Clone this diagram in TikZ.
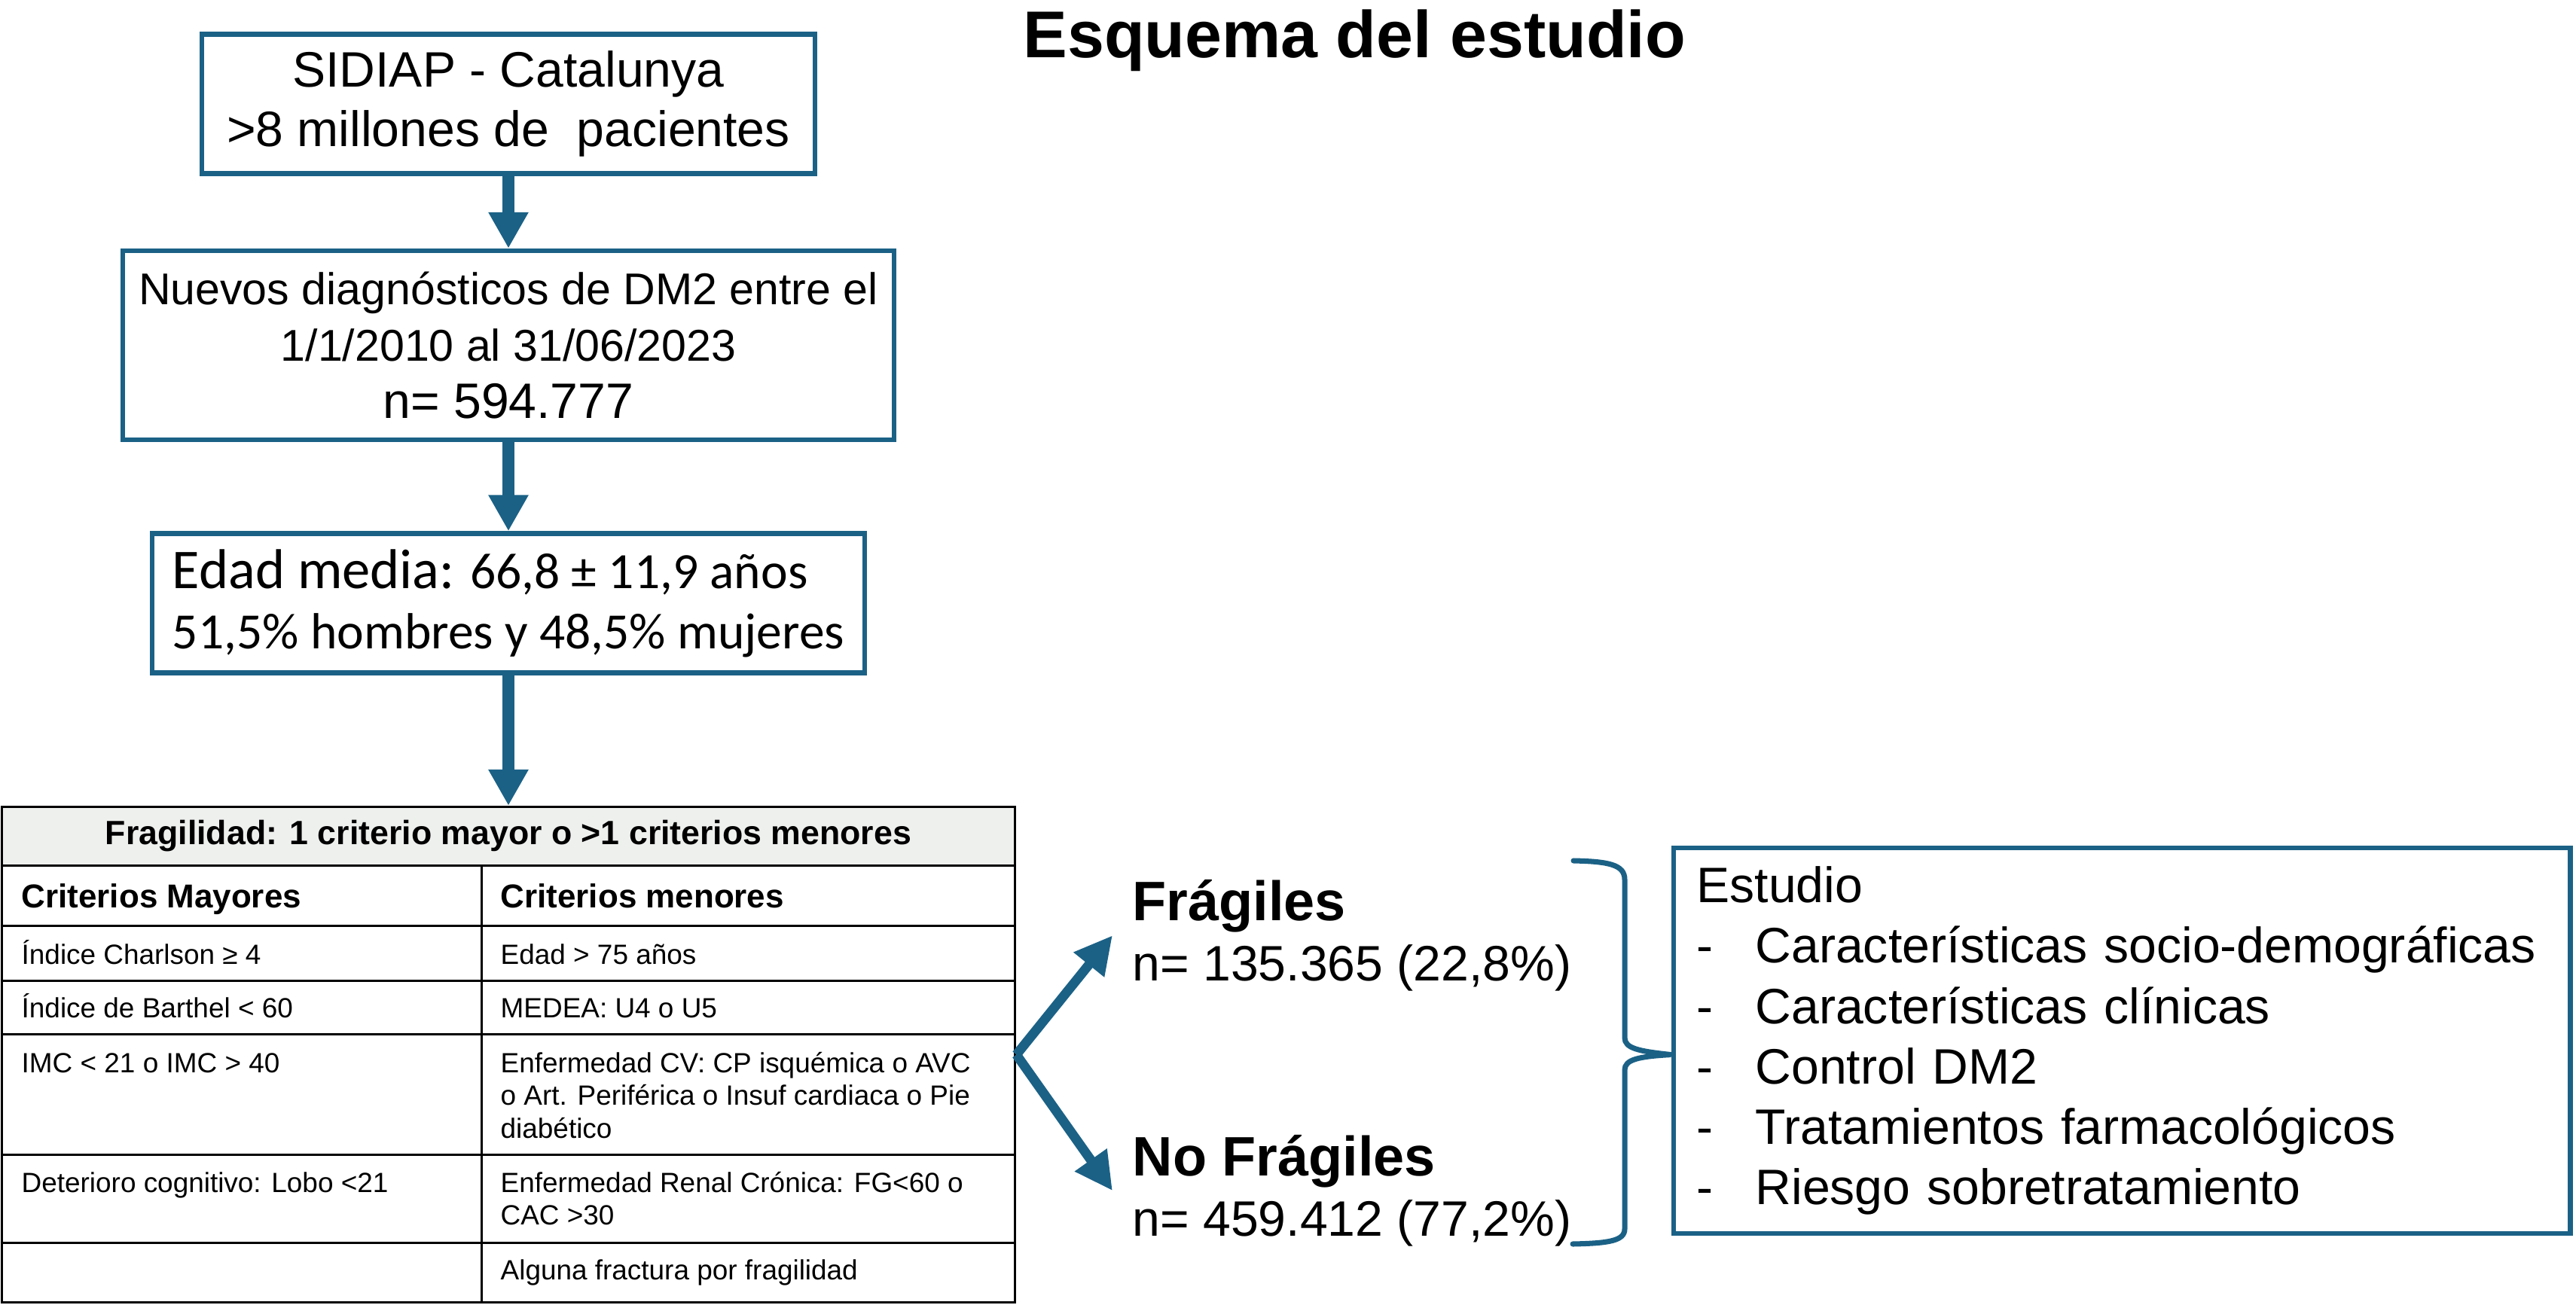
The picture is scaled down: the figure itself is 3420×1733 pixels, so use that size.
\documentclass[tikz,border=0pt]{standalone}
\usepackage{fontspec}
\setmainfont{Liberation Sans}
\newfontfamily\calibri{Carlito}
\usetikzlibrary{positioning,arrows.meta}
\definecolor{azulEsquema}{HTML}{1B6186}
\definecolor{grisCabecera}{HTML}{EEF0EE}
\newcommand{\celda}[1]{\parbox[t]{6.75cm}{\raggedright #1}}
\newcommand{\guion}[0]{\makebox[0.78cm][l]{-}}

\begin{document}
\begin{tikzpicture}[x=0.01cm, y=-0.01cm]
  \tikzset{
    caja/.style={draw=azulEsquema, line width=1.8pt, align=center, inner sep=0pt},
    flecha/.style={draw=azulEsquema, line width=4.8pt, -{Triangle[length=0.48cm, width=0.5cm]}},
    flechaFina/.style={draw=azulEsquema, line width=3.6pt, -{Triangle[length=0.5cm, width=0.49cm]}},
    llave/.style={draw=azulEsquema, line width=2pt, line cap=round},
    rejilla/.style={draw=black, line width=0.85pt},
    celdaTabla/.style={anchor=base west, inner sep=0pt, font=\fontsize{10.5}{12.4}\selectfont},
    cabeceraTabla/.style={anchor=base west, inner sep=0pt, font=\fontsize{12.5}{15}\selectfont\bfseries},
    grupo/.style={anchor=base west, inner xsep=0.26cm, inner ysep=0pt, font=\fontsize{18.8}{23}\selectfont}
  }
  \useasboundingbox (0,0) rectangle (3420,1733);

  \node[anchor=base west, inner sep=0pt, font=\fontsize{25}{30}\selectfont\bfseries] (TITULO) at (1358,77) {Esquema del estudio};

  \node[caja, minimum width=8.13cm, minimum height=1.85cm, font=\fontsize{18.8}{22.5}\selectfont] (BOX-1) at (675,138) {SIDIAP - Catalunya\\>8 millones de\ \ pacientes};
  \node[caja, below=0.96cm of BOX-1, minimum width=10.23cm, minimum height=2.51cm, font=\fontsize{16.8}{21.5}\selectfont] (BOX-2) {Nuevos diagnósticos de DM2 entre el\\1/1/2010 al 31/06/2023\\{\fontsize{18.8}{21.5}\selectfont n= 594.777}};
  \node[caja, below=1.18cm of BOX-2, align=left, minimum width=9.45cm, minimum height=1.85cm, font=\calibri\fontsize{19.2}{22.8}\selectfont] (BOX-3) {{\fontsize{21.2}{22.8}\selectfont Edad media:} 66,8 ± 11,9 años\\51,5\% hombres y 48,5\% mujeres};

  \node[rejilla, below=1.73cm of BOX-3, minimum width=13.45cm, minimum height=6.58cm, inner sep=0pt] (TAB) {};
  \node[rejilla, fill=grisCabecera, anchor=north, minimum width=13.45cm, minimum height=0.78cm, inner sep=0pt, font=\fontsize{12.7}{15}\selectfont\bfseries] (TAB-H) at (TAB.north) {Fragilidad: 1 criterio mayor o >1 criterios menores};
  \foreach \y in {1229,1302,1373,1533,1650}
    \draw[rejilla] (TAB.west |- 0,\y) -- (TAB.east |- 0,\y);
  \draw[rejilla] (TAB-H.south -| 639,0) -- (TAB.south -| 639,0);

  \node[cabeceraTabla] (CM-0) at (28,1205) {Criterios Mayores};
  \node[cabeceraTabla] (Cm-0) at (664,1205) {Criterios menores};
  \foreach \y/\izq/\der [count=\i] in {
      1280/{Índice Charlson ≥ 4}/{Edad > 75 años},
      1351/{Índice de Barthel < 60}/{MEDEA: U4 o U5},
      1424/{IMC < 21 o IMC > 40}/{\celda{Enfermedad CV: CP isquémica o AVC\\o Art. Periférica o Insuf cardiaca o Pie\\diabético}},
      1583/{Deterioro cognitivo: Lobo <21}/{\celda{Enfermedad Renal Crónica: FG<60 o\\CAC >30}},
      1699/{}/{Alguna fractura por fragilidad}} {
    \node[celdaTabla] (CM-\i) at (28,\y) {\izq};
    \node[celdaTabla] (Cm-\i) at (664,\y) {\der};
  }

  \node[grupo] (FRAG-1) at (1477,1222) {\parbox[t]{6.5cm}{{\fontsize{21}{23}\selectfont\bfseries Frágiles}\\n= 135.365 (22,8\%)}};
  \node[grupo] (FRAG-2) at (1477,1561) {\parbox[t]{6.5cm}{{\fontsize{21}{23}\selectfont\bfseries No Frágiles}\\n= 459.412 (77,2\%)}};

  \node[caja, align=left, minimum width=11.9cm, minimum height=5.12cm, text width=11.28cm, inner xsep=0.31cm, font=\fontsize{18.8}{22.8}\selectfont] (EST) at (2817,1382) {Estudio\\\guion Características socio-demográficas\\\guion Características clínicas\\\guion Control DM2\\\guion Tratamientos farmacológicos\\\guion Riesgo sobretratamiento};

  \draw[flecha] (BOX-1) -- (BOX-2);
  \draw[flecha] (BOX-2) -- (BOX-3);
  \draw[flecha] (BOX-3) -- (TAB-H);
  \draw[flechaFina] (TAB.east) -- (FRAG-1.west);
  \draw[flechaFina] (TAB.east) -- (FRAG-2.west);
  \draw[llave] (2089,1143) .. controls (2135,1144) and (2157,1148) .. (2157,1168) -- (2157,1378) .. controls (2157,1392) and (2175,1396) .. (EST.west |- TAB.east) .. controls (2175,1403) and (2157,1407) .. (2157,1421) -- (2157,1632) .. controls (2157,1648) and (2135,1651) .. (2088,1652);
\end{tikzpicture}
\end{document}
